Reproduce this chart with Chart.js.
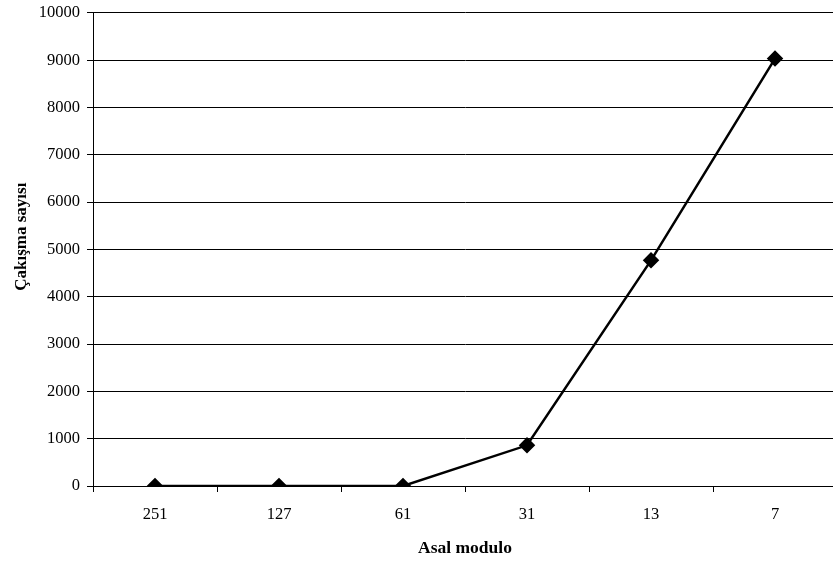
<!DOCTYPE html>
<html>
<head>
<meta charset="utf-8">
<script src="https://cdn.jsdelivr.net/npm/chart.js@4"></script>
<style>
  html, body { margin: 0; padding: 0; background: #fff; overflow: hidden; }
  #wrap { width: 846px; height: 565px; margin-top: -4px; }
</style>
</head>
<body>
<div id="wrap"><canvas id="chart"></canvas></div>
<script>
// ── Veri ─────────────────────────────────────────────
const moduli   = ['251', '127', '61', '31', '13', '7'];
const cakisma  = [0, 0, 0, 860, 4770, 9035];
const yMax     = 10000;
const yStep    = 1000;

const serif = '"Liberation Serif", "Times New Roman", serif';

new Chart(document.getElementById('chart'), {
  type: 'line',
  data: {
    labels: moduli,
    datasets: [{
      data: cakisma,
      borderColor: '#000',
      backgroundColor: '#000',
      borderWidth: 2.5,
      pointStyle: 'rectRot',
      pointRadius: 6.5,
      pointHoverRadius: 6.5,
      tension: 0,
      fill: false
    }]
  },
  options: {
    responsive: true,
    maintainAspectRatio: false,
    animation: false,
    layout: { padding: { top: 8, right: 6, bottom: 0, left: 0 } },
    plugins: { legend: { display: false }, tooltip: { enabled: false } },
    scales: {
      x: {
        offset: true,
        grid: { offset: true, drawOnChartArea: false, drawTicks: true, tickLength: 6, color: '#000' },
        border: { color: '#000', width: 1 },
        ticks: { color: '#000', font: { family: serif, size: 16.5 }, padding: 13 },
        title: { display: true, text: 'Asal modulo', color: '#000', font: { family: serif, size: 17.5, weight: 'bold' }, padding: { top: 4, bottom: 2 } },
        afterFit: (s) => { s.height = 75; }
      },
      y: {
        min: 0,
        max: yMax,
        grid: { color: '#000', lineWidth: 1, tickLength: 6 },
        border: { color: '#000', width: 1 },
        ticks: {
          stepSize: yStep, color: '#000', font: { family: serif, size: 16.5 }, padding: 7,
          callback: (v) => String(v)
        },
        title: {
          display: true, text: '\u00a0\u00a0\u00a0\u00a0\u00a0\u00a0Çakışma sayısı', color: '#000',
          font: { family: serif, size: 17, weight: 'bold' }, padding: { bottom: 0, top: 11 }
        },
        afterFit: (s) => { s.width = 93; }
      }
    }
  }
});
</script>
</body>
</html>
